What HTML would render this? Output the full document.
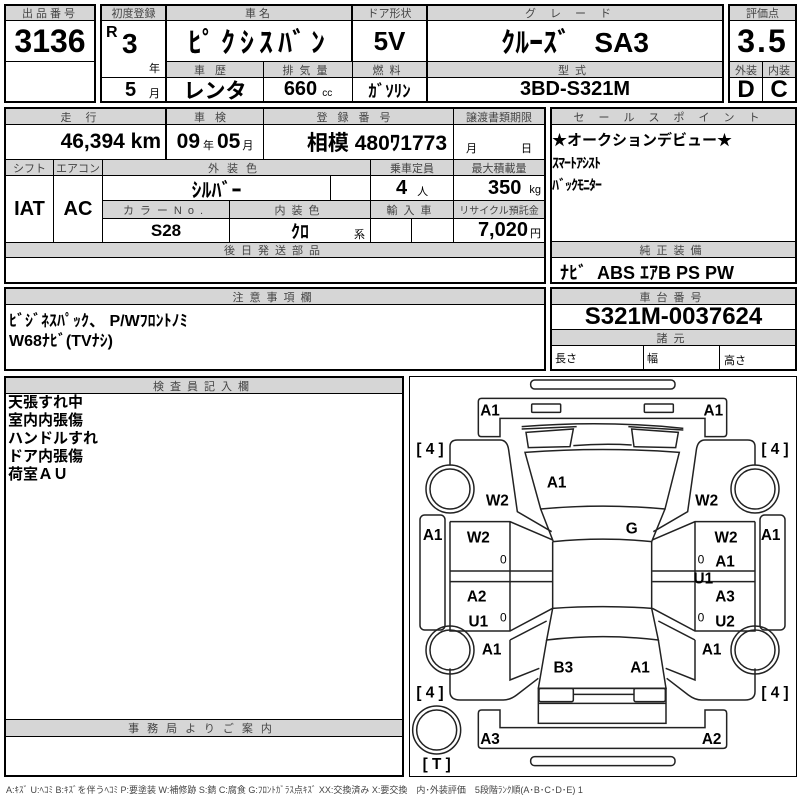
<!DOCTYPE html>
<html><head><meta charset="utf-8">
<style>
body{margin:0;background:#fff;width:800px;height:800px;position:relative;overflow:hidden;font-family:"Liberation Sans Narrow","Liberation Sans","Noto Sans CJK JP",sans-serif;}
.c{position:absolute;box-sizing:border-box;border:1px solid #000;display:flex;align-items:center;justify-content:center;color:#000;white-space:nowrap;}
.h{background:#d6d6d6;color:#444;font-size:11px;letter-spacing:3px;font-family:"Liberation Sans","Noto Sans CJK JP",sans-serif;}
.o{position:absolute;box-sizing:border-box;border:2px solid #000;}
.b{font-weight:bold;}
.t{position:absolute;white-space:nowrap;color:#000;}
</style></head><body>
<div class="o" style="left:4px;top:4px;width:92px;height:99px"></div>
<div class="o" style="left:100px;top:4px;width:624px;height:99px"></div>
<div class="o" style="left:728px;top:4px;width:69px;height:99px"></div>
<div class="c h" style="left:5px;top:5px;width:90px;height:16px">出品番号</div>
<div class="c b" style="left:5px;top:20px;width:90px;height:42px;font-size:32px">3136</div>
<div class="c h" style="left:101px;top:5px;width:65px;height:16px;letter-spacing:0">初度登録</div>
<div class="c" style="left:101px;top:20px;width:65px;height:58px"></div>
<div class="c" style="left:101px;top:77px;width:65px;height:25px"></div>
<div class="t b" style="left:106px;top:24px;font-size:16px">R</div>
<div class="t b" style="left:122px;top:28px;font-size:28px">3</div>
<div class="t" style="left:149px;top:60px;font-size:11px">年</div>
<div class="t b" style="left:125px;top:79px;font-size:20px">5</div>
<div class="t" style="left:149px;top:85px;font-size:11px">月</div>
<div class="c h" style="left:166px;top:5px;width:186px;height:16px">車名</div>
<div class="c b" style="left:166px;top:20px;width:186px;height:42px;font-size:28px;letter-spacing:5px">ﾋﾟｸｼｽﾊﾞﾝ</div>
<div class="c h" style="left:352px;top:5px;width:75px;height:16px;letter-spacing:0">ドア形状</div>
<div class="c b" style="left:352px;top:20px;width:75px;height:42px;font-size:26px">5V</div>
<div class="c h" style="left:427px;top:5px;width:296px;height:16px;letter-spacing:14px">グレード</div>
<div class="c b" style="left:427px;top:20px;width:296px;height:42px;font-size:28px">ｸﾙｰｽﾞ&nbsp;&nbsp;&nbsp;SA3</div>
<div class="c h" style="left:166px;top:61px;width:98px;height:17px;letter-spacing:10px">車歴</div>
<div class="c h" style="left:263px;top:61px;width:90px;height:17px;letter-spacing:6px">排気量</div>
<div class="c h" style="left:352px;top:61px;width:75px;height:17px;letter-spacing:6px">燃料</div>
<div class="c h" style="left:427px;top:61px;width:296px;height:17px;letter-spacing:6px">型式</div>
<div class="c b" style="left:166px;top:77px;width:98px;height:25px;font-size:21px">レンタ</div>
<div class="c b" style="left:263px;top:77px;width:90px;height:25px;font-size:20px">660 <span style="font-size:10px;font-weight:normal;margin-left:5px;margin-top:8px">cc</span></div>
<div class="c b" style="left:352px;top:77px;width:75px;height:25px;font-size:17px">ｶﾞｿﾘﾝ</div>
<div class="c b" style="left:427px;top:77px;width:296px;height:25px;font-size:20px">3BD-S321M</div>
<div class="c h" style="left:729px;top:5px;width:67px;height:16px;letter-spacing:0">評価点</div>
<div class="c b" style="left:729px;top:20px;width:67px;height:42px;font-size:32px;letter-spacing:2px">3.5</div>
<div class="c h" style="left:729px;top:61px;width:34px;height:17px;letter-spacing:0">外装</div>
<div class="c h" style="left:762px;top:61px;width:34px;height:17px;letter-spacing:0">内装</div>
<div class="c b" style="left:729px;top:77px;width:34px;height:25px;font-size:24px">D</div>
<div class="c b" style="left:762px;top:77px;width:34px;height:25px;font-size:24px">C</div>

<div class="o" style="left:4px;top:107px;width:542px;height:177px"></div>
<div class="c h" style="left:5px;top:108px;width:161px;height:17px;letter-spacing:14px">走行</div>
<div class="c h" style="left:166px;top:108px;width:98px;height:17px;letter-spacing:10px">車検</div>
<div class="c h" style="left:263px;top:108px;width:191px;height:17px;letter-spacing:10px">登録番号</div>
<div class="c h" style="left:453px;top:108px;width:92px;height:17px;letter-spacing:0">譲渡書類期限</div>
<div class="c b" style="left:5px;top:124px;width:161px;height:36px;font-size:21px;justify-content:flex-end;padding-right:4px">46,394 km</div>
<div class="c b" style="left:166px;top:124px;width:98px;height:36px;font-size:21px">09<span style="font-size:11px;font-weight:normal;margin:6px 3px 0">年</span>05<span style="font-size:11px;font-weight:normal;margin:6px 0 0 2px">月</span></div>
<div class="c b" style="left:263px;top:124px;width:191px;height:36px;font-size:21px;justify-content:flex-end;padding-right:6px">相模 480ﾜ1773</div>
<div class="c" style="left:453px;top:124px;width:92px;height:36px;font-size:11px;padding-top:12px;justify-content:space-around">月<span style="margin-left:20px">日</span></div>
<div class="c h" style="left:5px;top:159px;width:49px;height:17px;letter-spacing:0">シフト</div>
<div class="c h" style="left:53px;top:159px;width:50px;height:17px;letter-spacing:0">エアコン</div>
<div class="c h" style="left:102px;top:159px;width:269px;height:17px;letter-spacing:8px">外装色</div>
<div class="c h" style="left:370px;top:159px;width:84px;height:17px;letter-spacing:0">乗車定員</div>
<div class="c h" style="left:453px;top:159px;width:92px;height:17px;letter-spacing:0">最大積載量</div>
<div class="c b" style="left:5px;top:175px;width:49px;height:68px;font-size:20px">IAT</div>
<div class="c b" style="left:53px;top:175px;width:50px;height:68px;font-size:20px">AC</div>
<div class="c b" style="left:102px;top:175px;width:229px;height:26px;font-size:20px">ｼﾙﾊﾞｰ</div>
<div class="c" style="left:330px;top:175px;width:41px;height:26px"></div>
<div class="c b" style="left:370px;top:175px;width:84px;height:26px;font-size:20px">4 <span style="font-size:11px;font-weight:normal;margin-left:10px;margin-top:6px">人</span></div>
<div class="c b" style="left:453px;top:175px;width:92px;height:26px;font-size:20px;justify-content:flex-end;padding-right:3px">350 <span style="font-size:11px;font-weight:normal;margin-left:8px;margin-top:4px">kg</span></div>
<div class="c h" style="left:102px;top:200px;width:128px;height:19px;letter-spacing:6px">カラーNo.</div>
<div class="c h" style="left:229px;top:200px;width:142px;height:19px;letter-spacing:6px">内装色</div>
<div class="c h" style="left:370px;top:200px;width:84px;height:19px;letter-spacing:6px">輸入車</div>
<div class="c h" style="left:453px;top:200px;width:92px;height:19px;letter-spacing:0;font-size:10px">リサイクル預託金</div>
<div class="c b" style="left:102px;top:218px;width:128px;height:25px;font-size:17px">S28</div>
<div class="c b" style="left:229px;top:218px;width:142px;height:25px;font-size:18px">ｸﾛ</div>
<div class="t" style="left:354px;top:226px;font-size:11px">系</div>
<div class="c" style="left:370px;top:218px;width:42px;height:25px"></div>
<div class="c" style="left:411px;top:218px;width:43px;height:25px"></div>
<div class="c b" style="left:453px;top:218px;width:92px;height:25px;font-size:20px;justify-content:flex-end;padding-right:3px">7,020<span style="font-size:11px;font-weight:normal;margin-left:2px;margin-top:5px">円</span></div>
<div class="c h" style="left:5px;top:242px;width:540px;height:16px;letter-spacing:6px">後日発送部品</div>

<div class="o" style="left:550px;top:107px;width:247px;height:177px"></div>
<div class="c h" style="left:551px;top:108px;width:245px;height:17px;letter-spacing:14px">セールスポイント</div>
<div class="t b" style="left:552px;top:129px;font-size:15px;font-family:'Liberation Sans','Noto Sans CJK JP',sans-serif">★オークションデビュー★</div>
<div class="t b" style="left:552px;top:153px;font-size:14px;letter-spacing:-1px">ｽﾏｰﾄｱｼｽﾄ</div>
<div class="t b" style="left:552px;top:175px;font-size:14px;letter-spacing:-1px">ﾊﾞｯｸﾓﾆﾀｰ</div>
<div class="c h" style="left:551px;top:241px;width:245px;height:17px;letter-spacing:6px">純正装備</div>
<div class="t b" style="left:560px;top:259px;font-size:18px">ﾅﾋﾞ&nbsp; ABS ｴｱB PS PW</div>

<div class="o" style="left:4px;top:287px;width:542px;height:84px"></div>
<div class="c h" style="left:5px;top:288px;width:540px;height:17px;letter-spacing:6px">注意事項欄</div>
<div class="t b" style="left:9px;top:307px;font-size:16px">ﾋﾞｼﾞﾈｽﾊﾟｯｸ、 P/Wﾌﾛﾝﾄﾉﾐ</div>
<div class="t b" style="left:9px;top:327px;font-size:16px">W68ﾅﾋﾞ(TVﾅｼ)</div>

<div class="o" style="left:550px;top:287px;width:247px;height:84px"></div>
<div class="c h" style="left:551px;top:288px;width:245px;height:17px;letter-spacing:6px">車台番号</div>
<div class="c b" style="left:551px;top:304px;width:245px;height:26px;font-size:24px;border-width:0 0 1px 0">S321M-0037624</div>
<div class="c h" style="left:551px;top:329px;width:245px;height:17px;letter-spacing:6px">諸元</div>
<div class="c" style="left:551px;top:345px;width:93px;height:25px;font-size:11px;justify-content:flex-start;padding-left:4px;border-width:0 1px 0 0">長さ</div>
<div class="c" style="left:643px;top:345px;width:77px;height:25px;font-size:11px;justify-content:flex-start;padding-left:4px;border-width:0 1px 0 0">幅</div>
<div class="t" style="left:724px;top:352px;font-size:11px">高さ</div>

<div class="o" style="left:4px;top:376px;width:400px;height:401px"></div>
<div class="c h" style="left:5px;top:377px;width:398px;height:17px;letter-spacing:6px">検査員記入欄</div>
<div class="t b" style="left:8px;top:394px;font-size:15px;line-height:18px;font-family:'Liberation Sans','Noto Sans CJK JP',sans-serif">天張すれ中<br>室内内張傷<br>ハンドルすれ<br>ドア内張傷<br>荷室ＡＵ</div>
<div class="c h" style="left:5px;top:719px;width:398px;height:18px;letter-spacing:8px">事務局よりご案内</div>

<div class="o" style="left:409px;top:376px;width:388px;height:401px;border-width:1.5px"></div>
<svg style="position:absolute;left:0;top:0" width="800" height="800">
<defs>
<g id="side" fill="none" stroke="#222" stroke-width="4.5">
 <rect x="30" y="420" width="75" height="345" rx="14"/>
 <circle cx="120" cy="342" r="72"/><circle cx="120" cy="342" r="60"/>
 <circle cx="120" cy="825" r="72"/><circle cx="120" cy="825" r="60"/>
 <path d="M120,272 L120,215 Q120,195 142,195 L270,195 Q292,195 296,225 L322,410 L425,470"/>
 <path d="M120,440 L300,440 L428,495 M300,440 L300,768 M120,440 L120,768 L300,768 L428,700 M120,588 L428,588 M120,620 L428,620"/>
 <path d="M300,795 L410,738 M300,795 L300,915 L388,880"/>
 <path d="M120,880 L120,950 Q120,975 150,975 L280,975 Q300,975 320,960 L385,910"/>
</g>
</defs>
<g transform="translate(410,375) scale(0.33333)">
 <g fill="none" stroke="#222" stroke-width="4.5">
  <rect x="362" y="15" width="433" height="27" rx="12"/>
  <path d="M215,70 L940,70 Q950,70 950,80 L950,175 Q950,185 940,185 L885,185 L885,130 L270,130 L270,185 L215,185 Q205,185 205,175 L205,80 Q205,70 215,70Z"/>
  <rect x="365" y="87" width="87" height="25" rx="3"/><rect x="703" y="87" width="87" height="25" rx="3"/>
  <path d="M335,155 Q580,135 820,160"/>
  <path d="M335,162 L500,155"/><path d="M655,155 L820,165"/>
  <path d="M348,172 L490,162 L480,215 L355,218Z"/><path d="M665,162 L805,172 L797,218 L672,215Z"/>
  <path d="M490,212 Q580,205 665,210"/>
  <path d="M345,232 Q580,215 808,232 L765,402 Q580,385 392,402Z"/>
  <path d="M392,402 L430,500 Q580,485 725,500 L765,402"/>
  <path d="M428,500 L428,700 Q580,690 725,700 L725,500"/>
  <path d="M428,700 L410,795 Q580,775 745,795 L725,700"/>
  <path d="M410,795 L385,940 L768,940 L745,795"/>
  <rect x="385" y="940" width="383" height="105"/>
  <rect x="387" y="940" width="103" height="40" rx="5"/><rect x="672" y="940" width="94" height="40" rx="5"/>
  <path d="M490,958 L672,958 M385,985 L768,985"/>
  <path d="M215,1005 L270,1005 L270,1058 L885,1058 L885,1005 L940,1005 Q950,1005 950,1015 L950,1110 Q950,1120 940,1120 L215,1120 Q205,1120 205,1110 L205,1015 Q205,1005 215,1005Z"/>
  <rect x="362" y="1145" width="433" height="27" rx="12"/>
  <circle cx="80" cy="1065" r="72"/><circle cx="80" cy="1065" r="60"/>
 </g>
 <use href="#side"/>
 <use href="#side" transform="translate(1155,0) scale(-1,1)"/>
 <g font-family="Liberation Sans,sans-serif" font-weight="bold" font-size="46" text-anchor="middle" fill="#000">
  <text x="240" y="122">A1</text><text x="910" y="122">A1</text>
  <text x="60" y="237">[ 4 ]</text><text x="1095" y="237">[ 4 ]</text>
  <text x="60" y="967">[ 4 ]</text><text x="1095" y="967">[ 4 ]</text>
  <text x="440" y="337">A1</text><text x="262" y="392">W2</text><text x="890" y="392">W2</text>
  <text x="665" y="475">G</text>
  <text x="68" y="495">A1</text><text x="205" y="502">W2</text><text x="948" y="502">W2</text><text x="1082" y="495">A1</text>
  <text x="280" y="565" font-weight="normal" font-size="36">0</text><text x="873" y="565" font-weight="normal" font-size="36">0</text>
  <text x="945" y="575">A1</text><text x="880" y="625">U1</text>
  <text x="200" y="679">A2</text><text x="945" y="679">A3</text>
  <text x="205" y="755">U1</text><text x="280" y="740" font-weight="normal" font-size="36">0</text><text x="873" y="740" font-weight="normal" font-size="36">0</text><text x="945" y="755">U2</text>
  <text x="245" y="839">A1</text><text x="905" y="839">A1</text>
  <text x="460" y="892">B3</text><text x="690" y="892">A1</text>
  <text x="240" y="1107">A3</text><text x="905" y="1107">A2</text>
  <text x="80" y="1182">[ T ]</text>
 </g>
</g>
</svg>
<div class="t" style="left:6px;top:783px;font-size:9px;color:#444;font-family:'Liberation Sans','Noto Sans CJK JP',sans-serif">A:ｷｽﾞ U:ﾍｺﾐ B:ｷｽﾞを伴うﾍｺﾐ P:要塗装 W:補修跡 S:錆 C:腐食 G:ﾌﾛﾝﾄｶﾞﾗｽ点ｷｽﾞ XX:交換済み X:要交換　内･外装評価　5段階ﾗﾝｸ順(A･B･C･D･E) 1</div>
</body></html>
